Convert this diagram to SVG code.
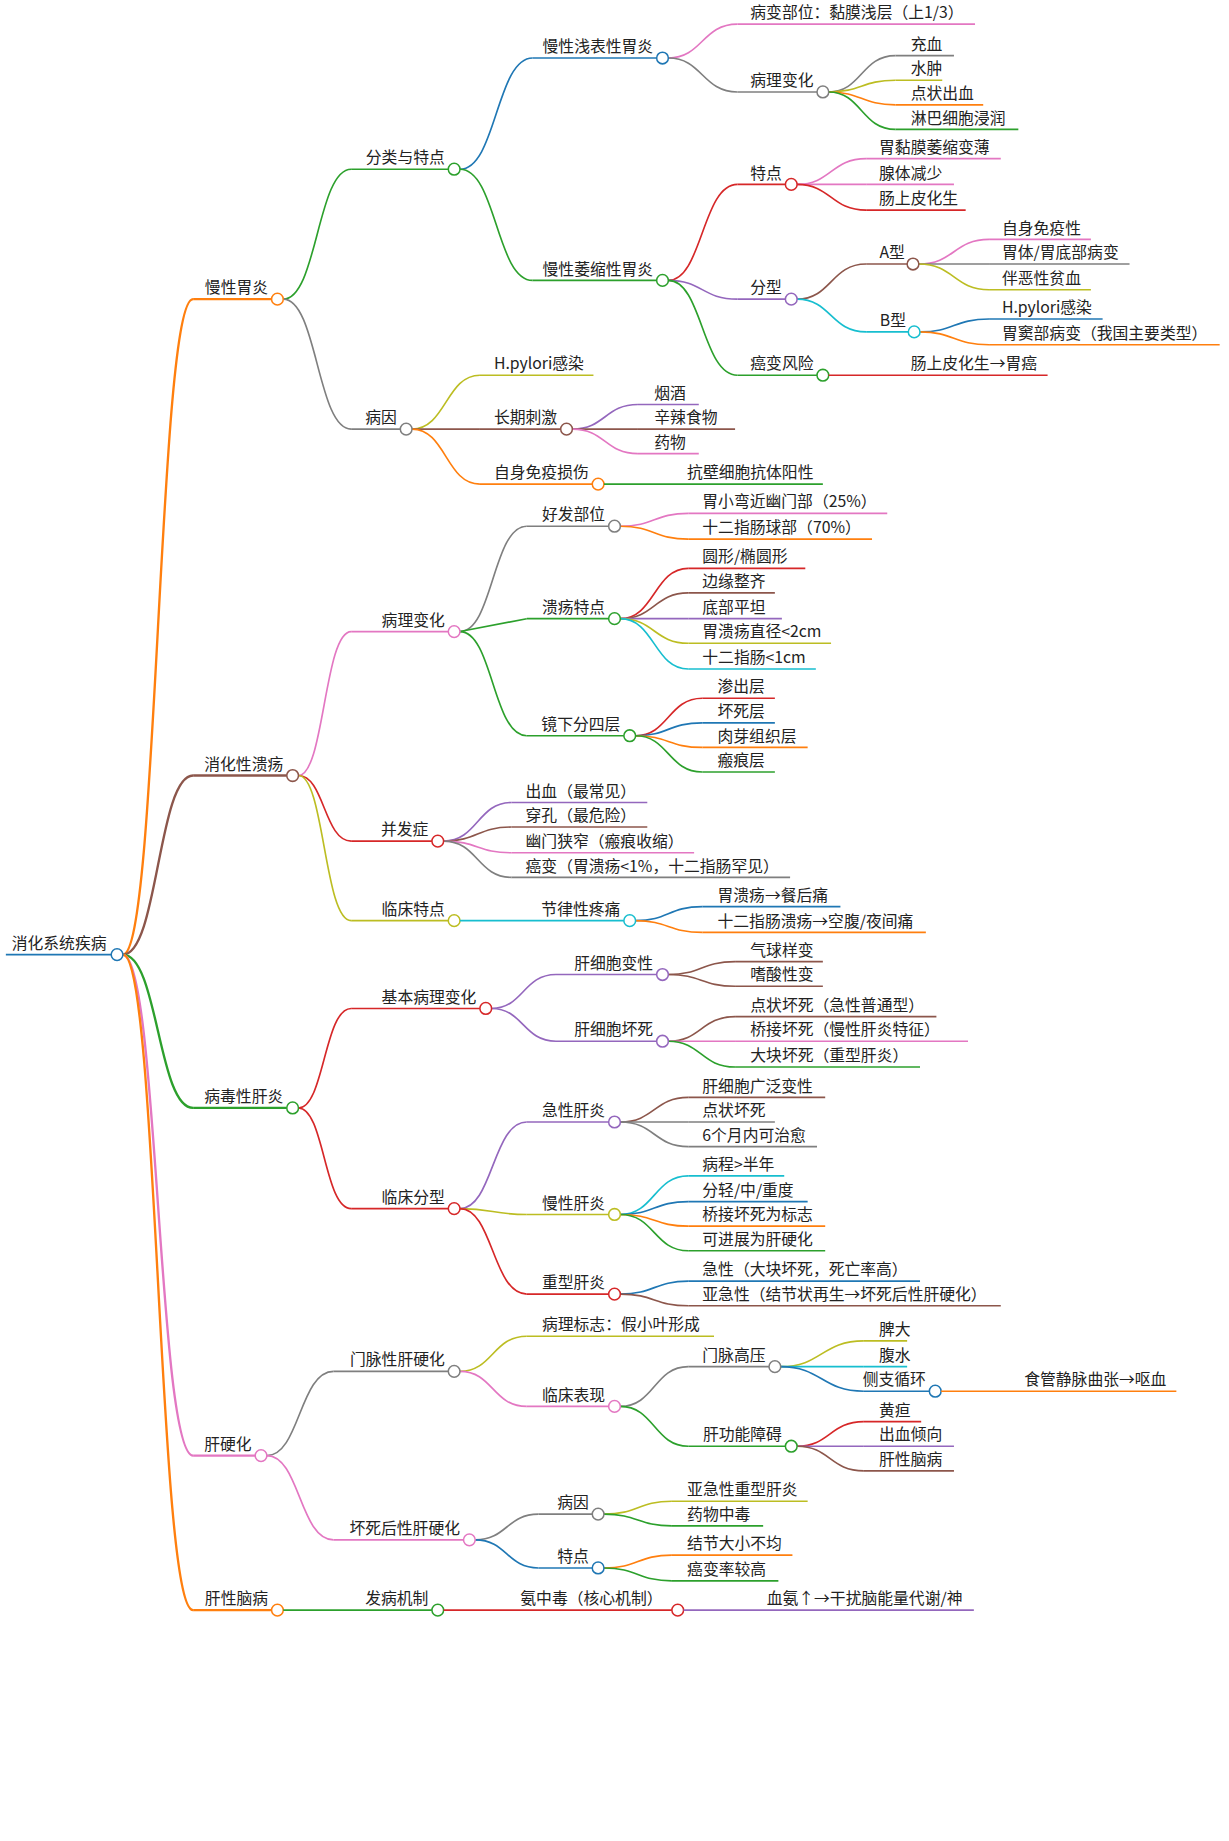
<svg xmlns="http://www.w3.org/2000/svg" width="1229" height="1841" viewBox="0 0 1229 1841">
<style>
text{font-family:"Noto Sans CJK SC","Noto Sans",sans-serif;font-size:13.5px;fill:#222}
.e{text-anchor:end}
path,circle{fill:none;stroke-width:1.4}
circle{fill:#fff;stroke-width:1.3}
.bl{stroke:#1f77b4}.or{stroke:#ff7f0e}.gr{stroke:#2ca02c}.rd{stroke:#d62728}.pu{stroke:#9467bd}.br{stroke:#8c564b}.pk{stroke:#e377c2}.gy{stroke:#7f7f7f}.ol{stroke:#bcbd22}.cy{stroke:#17becf}
.l1{stroke-width:2}
</style>
<rect width="1229" height="1841" fill="#fff"/>
<g transform="translate(0 3) scale(1.1705)">
<g id="connectors">
<path class="or l1" d="M105 813 C135 813 135 253 165 253"/>
<path class="br l1" d="M105 813 C135 813 135 660 165 660"/>
<path class="gr l1" d="M105 813 C135 813 135 944 165 944"/>
<path class="pk l1" d="M105 813 C135 813 135 1241 165 1241"/>
<path class="or l1" d="M105 813 C135 813 135 1373 165 1373"/>
<path class="gr" d="M242 253 C271 253 271 142 300 142"/>
<path class="gy" d="M242 253 C271 253 271 364 300 364"/>
<path class="bl" d="M393 142 C424 142 424 47 455 47"/>
<path class="gr" d="M393 142 C424 142 424 237 455 237"/>
<path class="pk" d="M571 47 C600 47 600 18 630 18"/>
<path class="gy" d="M571 47 C600 47 600 76 630 76"/>
<path class="gy" d="M708 76 C736 76 736 45 765 45"/>
<path class="ol" d="M708 76 C736 76 736 66 765 66"/>
<path class="or" d="M708 76 C736 76 736 87 765 87"/>
<path class="gr" d="M708 76 C736 76 736 108 765 108"/>
<path class="rd" d="M571 237 C600 237 600 155 630 155"/>
<path class="pu" d="M571 237 C600 237 600 253 630 253"/>
<path class="gr" d="M571 237 C600 237 600 318 630 318"/>
<path class="pk" d="M681 155 C710 155 710 133 740 133"/>
<path class="pk" d="M681 155 L740 155"/>
<path class="rd" d="M681 155 C710 155 710 177 740 177"/>
<path class="br" d="M681 253 C710 253 710 223 740 223"/>
<path class="cy" d="M681 253 C710 253 710 281 740 281"/>
<path class="pk" d="M785 223 C815 223 815 202 845 202"/>
<path class="gy" d="M785 223 L845 223"/>
<path class="ol" d="M785 223 C815 223 815 245 845 245"/>
<path class="bl" d="M786 281 C815 281 815 270 845 270"/>
<path class="or" d="M786 281 C815 281 815 292 845 292"/>
<path class="ol" d="M352 364 C381 364 381 318 410 318"/>
<path class="br" d="M352 364 L410 364"/>
<path class="or" d="M352 364 C381 364 381 411 410 411"/>
<path class="pu" d="M489 364 C517 364 517 343 545 343"/>
<path class="br" d="M489 364 L545 364"/>
<path class="pk" d="M489 364 C517 364 517 385 545 385"/>
<path class="pk" d="M255 660 C277 660 277 537 300 537"/>
<path class="rd" d="M255 660 C277 660 277 716 300 716"/>
<path class="ol" d="M255 660 C277 660 277 784 300 784"/>
<path class="gy" d="M393 537 C421 537 421 447 450 447"/>
<path class="gr" d="M393 537 L450 526"/>
<path class="gr" d="M393 537 C421 537 421 626 450 626"/>
<path class="pk" d="M530 447 C559 447 559 436 588 436"/>
<path class="or" d="M530 447 C559 447 559 458 588 458"/>
<path class="rd" d="M530 526 C559 526 559 483 588 483"/>
<path class="br" d="M530 526 C559 526 559 504 588 504"/>
<path class="pu" d="M530 526 L588 526"/>
<path class="ol" d="M530 526 C559 526 559 547 588 547"/>
<path class="cy" d="M530 526 C559 526 559 569 588 569"/>
<path class="rd" d="M543 626 C571 626 571 594 600 594"/>
<path class="bl" d="M543 626 C571 626 571 615 600 615"/>
<path class="or" d="M543 626 C571 626 571 636 600 636"/>
<path class="gr" d="M543 626 C571 626 571 657 600 657"/>
<path class="pu" d="M379 716 C408 716 408 683 437 683"/>
<path class="br" d="M379 716 C408 716 408 704 437 704"/>
<path class="pk" d="M379 716 C408 716 408 726 437 726"/>
<path class="gy" d="M379 716 C408 716 408 747 437 747"/>
<path class="bl" d="M543 784 C571 784 571 772 600 772"/>
<path class="or" d="M543 784 C571 784 571 794 600 794"/>
<path class="rd" d="M255 944 C277 944 277 859 300 859"/>
<path class="rd" d="M255 944 C277 944 277 1030 300 1030"/>
<path class="pu" d="M420 859 C447 859 447 830 475 830"/>
<path class="pu" d="M420 859 C447 859 447 887 475 887"/>
<path class="br" d="M571 830 C599 830 599 819 628 819"/>
<path class="br" d="M571 830 C599 830 599 840 628 840"/>
<path class="br" d="M571 887 C599 887 599 866 628 866"/>
<path class="pk" d="M571 887 L628 887"/>
<path class="gr" d="M571 887 C599 887 599 909 628 909"/>
<path class="pu" d="M393 1030 C421 1030 421 956 450 956"/>
<path class="ol" d="M393 1030 C421 1030 421 1035 450 1035"/>
<path class="rd" d="M393 1030 C421 1030 421 1103 450 1103"/>
<path class="br" d="M530 956 C559 956 559 935 588 935"/>
<path class="gy" d="M530 956 L588 956"/>
<path class="gy" d="M530 956 C559 956 559 977 588 977"/>
<path class="cy" d="M530 1035 C559 1035 559 1002 588 1002"/>
<path class="bl" d="M530 1035 C559 1035 559 1024 588 1024"/>
<path class="or" d="M530 1035 C559 1035 559 1045 588 1045"/>
<path class="gr" d="M530 1035 C559 1035 559 1066 588 1066"/>
<path class="bl" d="M530 1103 C559 1103 559 1092 588 1092"/>
<path class="br" d="M530 1103 C559 1103 559 1113 588 1113"/>
<path class="gy" d="M228 1241 C256 1241 256 1169 285 1169"/>
<path class="pk" d="M228 1241 C256 1241 256 1313 285 1313"/>
<path class="ol" d="M393 1169 C421 1169 421 1139 450 1139"/>
<path class="pk" d="M393 1169 C421 1169 421 1199 450 1199"/>
<path class="gy" d="M530 1199 C559 1199 559 1165 588 1165"/>
<path class="gr" d="M530 1199 C559 1199 559 1233 588 1233"/>
<path class="ol" d="M667 1165 C702 1165 702 1143 738 1143"/>
<path class="cy" d="M667 1165 L738 1165"/>
<path class="bl" d="M667 1165 C702 1165 702 1186 738 1186"/>
<path class="rd" d="M681 1233 C709 1233 709 1212 738 1212"/>
<path class="pu" d="M681 1233 L738 1233"/>
<path class="br" d="M681 1233 C709 1233 709 1254 738 1254"/>
<path class="gy" d="M406 1313 C433 1313 433 1291 460 1291"/>
<path class="bl" d="M406 1313 C433 1313 433 1337 460 1337"/>
<path class="ol" d="M516 1291 C545 1291 545 1280 574 1280"/>
<path class="gr" d="M516 1291 C545 1291 545 1301 574 1301"/>
<path class="or" d="M516 1337 C545 1337 545 1326 574 1326"/>
<path class="gr" d="M516 1337 C545 1337 545 1348 574 1348"/>
</g>
<g id="root"><path class="bl" stroke-width="2.5" d="M5 813H95"/><text x="10" y="808">消化系统疾病</text><circle class="bl" cx="100" cy="813" r="5"/></g>
<g id="n1"><path class="or l1" d="M165 253H232"/><text class="e" x="229" y="248">慢性胃炎</text><circle class="or" cx="237" cy="253" r="5"/></g>
<g id="n2"><path class="br l1" d="M165 660H245"/><text class="e" x="242" y="655">消化性溃疡</text><circle class="br" cx="250" cy="660" r="5"/></g>
<g id="n3"><path class="gr l1" d="M165 944H245"/><text class="e" x="242" y="939">病毒性肝炎</text><circle class="gr" cx="250" cy="944" r="5"/></g>
<g id="n4"><path class="pk l1" d="M165 1241H218"/><text class="e" x="215" y="1236">肝硬化</text><circle class="pk" cx="223" cy="1241" r="5"/></g>
<g id="n5"><path class="or l1" d="M165 1373H232"/><text class="e" x="229" y="1368">肝性脑病</text><circle class="or" cx="237" cy="1373" r="5"/></g>
<g id="n11"><path class="gr" d="M300 142H383"/><text class="e" x="380" y="137">分类与特点</text><circle class="gr" cx="388" cy="142" r="5"/></g>
<g id="n12"><path class="gy" d="M300 364H342"/><text class="e" x="339" y="359">病因</text><circle class="gy" cx="347" cy="364" r="5"/></g>
<g id="n111"><path class="bl" d="M455 47H561"/><text class="e" x="558" y="42">慢性浅表性胃炎</text><circle class="bl" cx="566" cy="47" r="5"/></g>
<g id="n112"><path class="gr" d="M455 237H561"/><text class="e" x="558" y="232">慢性萎缩性胃炎</text><circle class="gr" cx="566" cy="237" r="5"/></g>
<g id="n1111"><path class="pk" d="M630 18H833"/><text x="641" y="13">病变部位：黏膜浅层（上1/3）</text></g>
<g id="n1112"><path class="gy" d="M630 76H698"/><text class="e" x="695" y="71">病理变化</text><circle class="gy" cx="703" cy="76" r="5"/></g>
<g id="a1"><path class="gy" d="M765 45H815"/><text x="778" y="40">充血</text></g>
<g id="a2"><path class="ol" d="M765 66H805"/><text x="778" y="61">水肿</text></g>
<g id="a3"><path class="or" d="M765 87H840"/><text x="778" y="82">点状出血</text></g>
<g id="a4"><path class="gr" d="M765 108H870"/><text x="778" y="103">淋巴细胞浸润</text></g>
<g id="n1121"><path class="rd" d="M630 155H671"/><text class="e" x="668" y="150">特点</text><circle class="rd" cx="676" cy="155" r="5"/></g>
<g id="n1122"><path class="pu" d="M630 253H671"/><text class="e" x="668" y="248">分型</text><circle class="pu" cx="676" cy="253" r="5"/></g>
<g id="n1123"><path class="gr" d="M630 318H698"/><text class="e" x="695" y="313">癌变风险</text><circle class="gr" cx="703" cy="318" r="5"/></g>
<g id="b1"><path class="pk" d="M740 133H855"/><text x="751" y="128">胃黏膜萎缩变薄</text></g>
<g id="b2"><path class="pk" d="M740 155H815"/><text x="751" y="150">腺体减少</text></g>
<g id="b3"><path class="rd" d="M740 177H825"/><text x="751" y="172">肠上皮化生</text></g>
<g id="nA"><path class="br" d="M740 223H775"/><text class="e" x="773" y="218">A型</text><circle class="br" cx="780" cy="223" r="5"/></g>
<g id="nB"><path class="cy" d="M740 281H776"/><text class="e" x="774" y="276">B型</text><circle class="cy" cx="781" cy="281" r="5"/></g>
<g id="c1"><path class="pk" d="M845 202H932"/><text x="856" y="197">自身免疫性</text></g>
<g id="c2"><path class="gy" d="M845 223H965"/><text x="856" y="218">胃体/胃底部病变</text></g>
<g id="c3"><path class="ol" d="M845 245H932"/><text x="856" y="240">伴恶性贫血</text></g>
<g id="c4"><path class="bl" d="M845 270H942"/><text x="856" y="265">H.pylori感染</text></g>
<g id="c5"><path class="or" d="M845 292H1042"/><text x="856" y="287">胃窦部病变（我国主要类型）</text></g>
<g id="c6"><path class="rd" d="M708 318H895"/><text x="778" y="313">肠上皮化生→胃癌</text></g>
<g id="d1"><path class="ol" d="M410 318H507"/><text x="422" y="313">H.pylori感染</text></g>
<g id="d2"><path class="br" d="M410 364H479"/><text class="e" x="476" y="359">长期刺激</text><circle class="br" cx="484" cy="364" r="5"/></g>
<g id="d3"><path class="or" d="M410 411H506"/><text class="e" x="503" y="406">自身免疫损伤</text><circle class="or" cx="511" cy="411" r="5"/></g>
<g id="d4"><path class="pu" d="M545 343H597"/><text x="559" y="338">烟酒</text></g>
<g id="d5"><path class="br" d="M545 364H628"/><text x="559" y="359">辛辣食物</text></g>
<g id="d6"><path class="pk" d="M545 385H597"/><text x="559" y="380">药物</text></g>
<g id="d7"><path class="gr" d="M516 411H703"/><text x="587" y="406">抗壁细胞抗体阳性</text></g>
<g id="e1"><path class="pk" d="M300 537H383"/><text class="e" x="380" y="532">病理变化</text><circle class="pk" cx="388" cy="537" r="5"/></g>
<g id="e2"><path class="rd" d="M300 716H369"/><text class="e" x="366" y="711">并发症</text><circle class="rd" cx="374" cy="716" r="5"/></g>
<g id="e3"><path class="ol" d="M300 784H383"/><text class="e" x="380" y="779">临床特点</text><circle class="ol" cx="388" cy="784" r="5"/></g>
<g id="f1"><path class="gy" d="M450 447H520"/><text class="e" x="517" y="442">好发部位</text><circle class="gy" cx="525" cy="447" r="5"/></g>
<g id="f2"><path class="gr" d="M450 526H520"/><text class="e" x="517" y="521">溃疡特点</text><circle class="gr" cx="525" cy="526" r="5"/></g>
<g id="f3"><path class="gr" d="M450 626H533"/><text class="e" x="530" y="621">镜下分四层</text><circle class="gr" cx="538" cy="626" r="5"/></g>
<g id="g1"><path class="pk" d="M588 436H758"/><text x="600" y="431">胃小弯近幽门部（25%）</text></g>
<g id="g2"><path class="or" d="M588 458H745"/><text x="600" y="453">十二指肠球部（70%）</text></g>
<g id="g3"><path class="rd" d="M588 483H688"/><text x="600" y="478">圆形/椭圆形</text></g>
<g id="g4"><path class="br" d="M588 504H662"/><text x="600" y="499">边缘整齐</text></g>
<g id="g5"><path class="pu" d="M588 526H668"/><text x="600" y="521">底部平坦</text></g>
<g id="g6"><path class="ol" d="M588 547H710"/><text x="600" y="542">胃溃疡直径&lt;2cm</text></g>
<g id="g7"><path class="cy" d="M588 569H697"/><text x="600" y="564">十二指肠&lt;1cm</text></g>
<g id="h1"><path class="rd" d="M600 594H662"/><text x="613" y="589">渗出层</text></g>
<g id="h2"><path class="bl" d="M600 615H662"/><text x="613" y="610">坏死层</text></g>
<g id="h3"><path class="or" d="M600 636H690"/><text x="613" y="631">肉芽组织层</text></g>
<g id="h4"><path class="gr" d="M600 657H662"/><text x="613" y="652">瘢痕层</text></g>
<g id="i1"><path class="pu" d="M437 683H553"/><text x="449" y="678">出血（最常见）</text></g>
<g id="i2"><path class="br" d="M437 704H553"/><text x="449" y="699">穿孔（最危险）</text></g>
<g id="i3"><path class="pk" d="M437 726H593"/><text x="449" y="721">幽门狭窄（瘢痕收缩）</text></g>
<g id="i4"><path class="gy" d="M437 747H675"/><text x="449" y="742">癌变（胃溃疡&lt;1%，十二指肠罕见）</text></g>
<g id="j1"><path class="cy" d="M393 784H533"/><text class="e" x="530" y="779">节律性疼痛</text><circle class="cy" cx="538" cy="784" r="5"/></g>
<g id="j2"><path class="bl" d="M600 772H718"/><text x="613" y="767">胃溃疡→餐后痛</text></g>
<g id="j3"><path class="or" d="M600 794H791"/><text x="613" y="789">十二指肠溃疡→空腹/夜间痛</text></g>
<g id="k1"><path class="rd" d="M300 859H410"/><text class="e" x="407" y="854">基本病理变化</text><circle class="rd" cx="415" cy="859" r="5"/></g>
<g id="k2"><path class="rd" d="M300 1030H383"/><text class="e" x="380" y="1025">临床分型</text><circle class="rd" cx="388" cy="1030" r="5"/></g>
<g id="k3"><path class="pu" d="M475 830H561"/><text class="e" x="558" y="825">肝细胞变性</text><circle class="pu" cx="566" cy="830" r="5"/></g>
<g id="k4"><path class="pu" d="M475 887H561"/><text class="e" x="558" y="882">肝细胞坏死</text><circle class="pu" cx="566" cy="887" r="5"/></g>
<g id="m1"><path class="br" d="M628 819H703"/><text x="641" y="814">气球样变</text></g>
<g id="m2"><path class="br" d="M628 840H703"/><text x="641" y="835">嗜酸性变</text></g>
<g id="m3"><path class="br" d="M628 866H800"/><text x="641" y="861">点状坏死（急性普通型）</text></g>
<g id="m4"><path class="pk" d="M628 887H827"/><text x="641" y="882">桥接坏死（慢性肝炎特征）</text></g>
<g id="m5"><path class="gr" d="M628 909H786"/><text x="641" y="904">大块坏死（重型肝炎）</text></g>
<g id="p1"><path class="pu" d="M450 956H520"/><text class="e" x="517" y="951">急性肝炎</text><circle class="pu" cx="525" cy="956" r="5"/></g>
<g id="p2"><path class="ol" d="M450 1035H520"/><text class="e" x="517" y="1030">慢性肝炎</text><circle class="ol" cx="525" cy="1035" r="5"/></g>
<g id="p3"><path class="rd" d="M450 1103H520"/><text class="e" x="517" y="1098">重型肝炎</text><circle class="rd" cx="525" cy="1103" r="5"/></g>
<g id="q1"><path class="br" d="M588 935H705"/><text x="600" y="930">肝细胞广泛变性</text></g>
<g id="q2"><path class="gy" d="M588 956H662"/><text x="600" y="951">点状坏死</text></g>
<g id="q3"><path class="gy" d="M588 977H698"/><text x="600" y="972">6个月内可治愈</text></g>
<g id="q4"><path class="cy" d="M588 1002H670"/><text x="600" y="997">病程&gt;半年</text></g>
<g id="q5"><path class="bl" d="M588 1024H690"/><text x="600" y="1019">分轻/中/重度</text></g>
<g id="q6"><path class="or" d="M588 1045H705"/><text x="600" y="1040">桥接坏死为标志</text></g>
<g id="q7"><path class="gr" d="M588 1066H705"/><text x="600" y="1061">可进展为肝硬化</text></g>
<g id="q8"><path class="bl" d="M588 1092H786"/><text x="600" y="1087">急性（大块坏死，死亡率高）</text></g>
<g id="q9"><path class="br" d="M588 1113H855"/><text x="600" y="1108">亚急性（结节状再生→坏死后性肝硬化）</text></g>
<g id="r1"><path class="gy" d="M285 1169H383"/><text class="e" x="380" y="1164">门脉性肝硬化</text><circle class="gy" cx="388" cy="1169" r="5"/></g>
<g id="r2"><path class="pk" d="M285 1313H396"/><text class="e" x="393" y="1308">坏死后性肝硬化</text><circle class="pk" cx="401" cy="1313" r="5"/></g>
<g id="s1"><path class="ol" d="M450 1139H610"/><text x="463" y="1134">病理标志：假小叶形成</text></g>
<g id="s2"><path class="pk" d="M450 1199H520"/><text class="e" x="517" y="1194">临床表现</text><circle class="pk" cx="525" cy="1199" r="5"/></g>
<g id="s3"><path class="gy" d="M588 1165H657"/><text class="e" x="654" y="1160">门脉高压</text><circle class="gy" cx="662" cy="1165" r="5"/></g>
<g id="s4"><path class="gr" d="M588 1233H671"/><text class="e" x="668" y="1228">肝功能障碍</text><circle class="gr" cx="676" cy="1233" r="5"/></g>
<g id="t1"><path class="ol" d="M738 1143H775"/><text x="751" y="1138">脾大</text></g>
<g id="t2"><path class="cy" d="M738 1165H775"/><text x="751" y="1160">腹水</text></g>
<g id="t3"><path class="bl" d="M738 1186H794"/><text class="e" x="791" y="1181">侧支循环</text><circle class="bl" cx="799" cy="1186" r="5"/></g>
<g id="t4"><path class="or" d="M804 1186H1005"/><text x="875" y="1181">食管静脉曲张→呕血</text></g>
<g id="t5"><path class="rd" d="M738 1212H787"/><text x="751" y="1207">黄疸</text></g>
<g id="t6"><path class="pu" d="M738 1233H815"/><text x="751" y="1228">出血倾向</text></g>
<g id="t7"><path class="br" d="M738 1254H815"/><text x="751" y="1249">肝性脑病</text></g>
<g id="u1"><path class="gy" d="M460 1291H506"/><text class="e" x="503" y="1286">病因</text><circle class="gy" cx="511" cy="1291" r="5"/></g>
<g id="u2"><path class="bl" d="M460 1337H506"/><text class="e" x="503" y="1332">特点</text><circle class="bl" cx="511" cy="1337" r="5"/></g>
<g id="v1"><path class="ol" d="M574 1280H690"/><text x="587" y="1275">亚急性重型肝炎</text></g>
<g id="v2"><path class="gr" d="M574 1301H652"/><text x="587" y="1296">药物中毒</text></g>
<g id="v3"><path class="or" d="M574 1326H677"/><text x="587" y="1321">结节大小不均</text></g>
<g id="v4"><path class="gr" d="M574 1348H665"/><text x="587" y="1343">癌变率较高</text></g>
<g id="w1"><path class="gr" d="M242 1373H369"/><text class="e" x="366" y="1368">发病机制</text><circle class="gr" cx="374" cy="1373" r="5"/></g>
<g id="w2"><path class="rd" d="M379 1373H574"/><text class="e" x="566" y="1368">氨中毒（核心机制）</text><circle class="rd" cx="579" cy="1373" r="5"/></g>
<g id="w3"><path class="pu" d="M584 1373H832"/><text x="655" y="1368">血氨↑→干扰脑能量代谢/神</text></g>
</g>
</svg>
